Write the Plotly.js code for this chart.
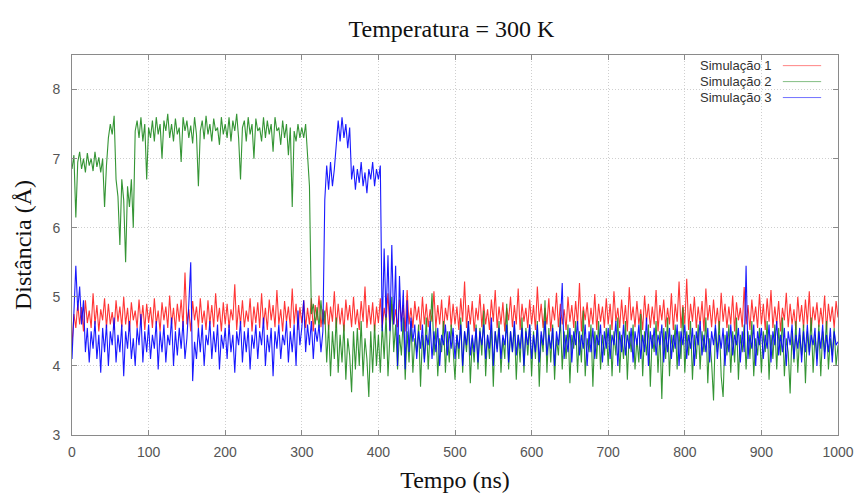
<!DOCTYPE html>
<html>
<head>
<meta charset="utf-8">
<script src="https://cdn.plot.ly/plotly-3.0.1.min.js"></script>
<style>html,body{margin:0;padding:0;background:#fff;}#chart{width:855px;height:496px;}</style>
</head>
<body>
<div id="chart"></div>
<script>
// Time axis: samples every 2.5 ns from 0 to 1000 ns
const timeStart = 0;
const timeStep = 2.5;
const seriesNames = ["Simulação 1", "Simulação 2", "Simulação 3"];
const xTicks = [0, 100, 200, 300, 400, 500, 600, 700, 800, 900, 1000];
const yTicks = [3, 4, 5, 6, 7, 8];

// Simulação 1 (red), distance in Å
const sim1 = [
  4.3, 4.75, 4.55, 4.9, 4.6, 4.85, 4.5, 4.95, 4.62, 4.8,
  4.55, 5.05, 4.6, 4.88, 4.5, 4.82, 4.66, 4.98, 4.55, 4.9,
  4.6, 4.78, 4.52, 4.95, 4.64, 4.86, 4.56, 5.0, 4.6, 4.84,
  4.5, 4.92, 4.66, 4.8, 4.55, 4.96, 4.6, 4.88, 4.52, 4.9,
  4.62, 4.85, 4.55, 4.98, 4.6, 4.8, 4.5, 4.92, 4.66, 4.86,
  4.55, 5.02, 4.6, 4.84, 4.52, 4.9, 4.64, 4.96, 4.56, 5.35,
  4.6, 4.82, 4.5, 4.94, 4.66, 4.86, 4.55, 4.98, 4.62, 4.8,
  4.52, 4.95, 4.6, 4.88, 4.56, 5.05, 4.64, 4.84, 4.5, 4.92,
  4.6, 4.9, 4.55, 4.82, 4.66, 5.18, 4.52, 4.88, 4.6, 4.95,
  4.56, 4.8, 4.64, 4.98, 4.5, 4.86, 4.62, 4.92, 4.55, 5.05,
  4.6, 4.84, 4.52, 4.96, 4.66, 4.88, 4.56, 5.1, 4.6, 4.82,
  4.5, 4.94, 4.64, 4.86, 4.55, 5.12, 4.6, 4.9, 4.52, 4.85,
  4.62, 4.95, 4.55, 4.84, 4.6, 4.98, 4.5, 4.88, 4.66, 5.02,
  4.56, 4.82, 4.6, 4.92, 4.52, 4.86, 4.64, 5.08, 4.55, 4.9,
  4.6, 4.84, 4.5, 4.96, 4.66, 4.88, 4.56, 5.0, 4.6, 4.82,
  4.52, 4.94, 4.64, 5.15, 4.55, 4.88, 4.6, 4.92, 4.5, 4.86,
  4.62, 4.98, 4.55, 4.84, 4.66, 5.05, 4.52, 4.9, 4.6, 4.82,
  4.56, 4.96, 4.64, 4.88, 4.5, 5.1, 4.6, 4.84, 4.55, 4.94,
  4.66, 4.86, 4.52, 5.0, 4.6, 4.9, 4.56, 4.82, 4.64, 5.08,
  4.55, 4.88, 4.6, 4.96, 4.5, 4.84, 4.66, 5.02, 4.56, 4.9,
  4.6, 4.86, 4.52, 4.98, 4.64, 5.22, 4.55, 4.88, 4.6, 4.94,
  4.5, 4.84, 4.66, 5.04, 4.56, 4.9, 4.6, 4.82, 4.52, 4.96,
  4.64, 5.1, 4.55, 4.86, 4.6, 4.92, 4.5, 4.84, 4.66, 5.0,
  4.56, 4.88, 4.6, 5.12, 4.52, 4.9, 4.64, 4.84, 4.55, 4.96,
  4.6, 4.88, 4.52, 5.15, 4.64, 4.9, 4.55, 4.84, 4.6, 4.98,
  4.5, 4.86, 4.66, 5.06, 4.56, 4.9, 4.6, 4.82, 4.52, 5.0,
  4.64, 4.88, 4.55, 4.94, 4.6, 5.2, 4.5, 4.86, 4.66, 4.92,
  4.56, 4.84, 4.6, 5.04, 4.52, 4.9, 4.64, 4.86, 4.55, 4.98,
  4.6, 4.9, 4.52, 5.08, 4.64, 4.84, 4.55, 4.96, 4.6, 4.88,
  4.5, 5.14, 4.66, 4.86, 4.56, 4.94, 4.6, 4.82, 4.52, 5.02,
  4.64, 4.9, 4.55, 4.86, 4.6, 5.1, 4.5, 4.88, 4.66, 4.96,
  4.56, 4.84, 4.6, 5.05, 4.52, 4.9, 4.64, 5.22, 4.55, 4.88,
  4.6, 5.26, 4.52, 4.9, 4.64, 5.0, 4.55, 4.86, 4.6, 4.94,
  4.5, 5.12, 4.66, 4.88, 4.56, 4.96, 4.6, 4.84, 4.52, 5.06,
  4.64, 4.9, 4.55, 4.86, 4.6, 5.02, 4.5, 4.92, 4.66, 4.84,
  4.56, 5.14, 4.6, 4.88, 4.52, 4.96, 4.64, 4.86, 4.55, 5.04,
  4.6, 4.9, 4.52, 4.98, 4.64, 5.1, 4.55, 4.86, 4.6, 4.94,
  4.5, 4.84, 4.66, 5.06, 4.56, 4.9, 4.6, 4.82, 4.52, 5.0,
  4.64, 4.88, 4.55, 4.96, 4.6, 5.08, 4.5, 4.86, 4.66, 4.92,
  4.56, 4.84, 4.6, 5.02, 4.52, 4.9, 4.64, 4.86, 4.55, 4.94,
  4.7
];

// Simulação 2 (green)
const sim2 = [
  6.85, 7.05, 6.15, 6.95, 7.1, 6.85, 7.0, 6.8, 7.08, 6.9,
  7.0, 6.82, 7.1, 6.88, 7.02, 6.8, 7.0, 6.3, 6.9, 7.3,
  7.5, 7.35, 7.62, 6.7, 6.45, 5.75, 6.7, 6.4, 5.5, 6.6,
  6.3, 6.7, 6.0, 7.4, 7.55, 7.3, 7.6, 7.25, 7.5, 6.7,
  7.45, 7.3, 7.55, 7.25, 7.6, 7.35, 7.5, 7.0, 7.55, 7.4,
  7.65, 7.3, 7.5, 7.25, 7.58, 7.35, 7.45, 6.95, 7.6, 7.4,
  7.55, 7.3, 7.48, 7.22, 7.6, 7.35, 6.6, 7.4, 7.55, 7.28,
  7.62, 7.35, 7.5, 7.25, 7.58, 7.4, 7.45, 7.2, 7.6, 7.35,
  7.5, 7.3, 7.6, 7.25, 7.55, 7.4, 7.65, 7.3, 6.7, 7.45,
  7.55, 7.25, 7.6, 7.35, 7.5, 7.0, 7.58, 7.4, 7.45, 7.25,
  7.6, 7.3, 7.55, 7.35, 7.5, 7.1, 7.6, 7.4, 7.45, 7.2,
  7.55, 7.3, 7.5, 7.05, 7.45, 6.3, 7.4, 7.25, 7.5, 7.3,
  7.45, 7.3, 7.5, 7.0, 6.6, 4.75, 4.9, 4.6, 4.85, 4.55,
  4.95, 4.6, 4.8, 4.05, 4.6, 3.85, 4.5, 4.1, 4.7, 3.9,
  4.45, 4.05, 4.6, 3.8, 4.4, 4.15, 3.62, 4.5, 3.95, 4.55,
  4.0, 4.65, 3.85, 4.4, 4.1, 3.55, 4.5, 3.9, 4.6, 4.0,
  4.45, 3.9, 4.6, 4.1, 4.75, 3.85, 4.5, 5.0, 4.2, 4.6,
  3.95, 4.45, 4.15, 4.7, 3.8, 4.5, 4.05, 4.65, 3.9, 4.4,
  4.2, 4.6, 3.7, 4.45, 4.1, 4.7, 3.95, 4.5, 5.05, 4.15,
  4.55, 3.85, 4.4, 4.2, 4.65, 3.9, 4.5, 4.05, 4.6, 4.25,
  3.8, 4.45, 4.1, 4.7, 3.9, 4.5, 4.2, 4.65, 3.75, 4.4,
  4.05, 4.6, 3.95, 4.55, 4.15, 4.8, 3.85, 4.45, 4.1, 4.6,
  3.7, 4.5, 4.25, 4.65, 3.9, 4.4, 4.1, 4.9, 3.95, 4.5,
  4.2, 4.6, 3.8, 4.45, 4.05, 4.7, 3.9, 4.55, 4.15, 4.6,
  3.85, 4.5, 4.1, 4.65, 3.7, 4.45, 4.2, 4.95, 3.9, 4.55,
  4.05, 4.6, 3.8, 4.4, 4.15, 4.7, 3.95, 4.5, 4.1, 4.6,
  3.75, 4.45, 4.25, 4.65, 3.9, 4.5, 4.05, 4.8, 3.85, 4.4,
  4.2, 4.6, 3.7, 4.5, 4.1, 4.65, 3.95, 4.45, 4.15, 4.55,
  4.0, 4.6, 3.85, 4.5, 4.15, 4.7, 3.9, 4.45, 4.1, 4.65,
  3.8, 4.5, 4.2, 4.6, 3.95, 4.4, 4.05, 4.75, 3.85, 4.5,
  4.15, 4.6, 3.7, 4.45, 4.2, 4.65, 3.9, 4.5, 3.52, 4.55,
  4.1, 4.7, 3.85, 4.45, 4.2, 4.6, 3.95, 4.5, 4.1, 4.85,
  3.9, 4.5, 4.15, 4.65, 3.8, 4.45, 4.1, 4.6, 3.95, 4.5,
  4.2, 4.7, 3.75, 4.4, 4.05, 3.5, 4.55, 4.2, 4.65, 3.85,
  3.55, 4.45, 4.15, 4.6, 3.9, 4.5, 4.05, 4.7, 3.8, 4.45,
  4.2, 4.6, 3.95, 4.5, 4.1, 4.65, 3.85, 4.4, 4.15, 4.55,
  3.9, 4.5, 4.2, 4.65, 3.8, 4.45, 4.1, 4.6, 3.95, 4.55,
  4.15, 4.7, 3.85, 4.4, 4.2, 3.6, 4.5, 4.05, 4.65, 3.9,
  4.45, 4.15, 4.6, 3.75, 4.5, 4.2, 4.7, 3.9, 4.45, 4.1,
  4.6, 3.85, 4.5, 4.2, 4.65, 3.95, 4.4, 4.15, 4.55, 4.0,
  4.3
];

// Simulação 3 (blue)
const sim3 = [
  4.1, 4.9, 5.45, 4.8, 5.15, 4.6, 4.95, 4.2, 4.55, 4.05,
  4.5, 4.25, 4.65, 4.1, 4.45, 3.9, 4.55, 4.2, 4.6, 4.0,
  4.5, 4.3, 4.7, 4.05, 4.45, 4.2, 4.6, 3.85, 4.5, 4.25,
  4.65, 4.1, 4.4, 4.0, 4.55, 4.3, 4.75, 4.05, 4.5, 4.2,
  4.6, 4.1, 4.45, 4.25, 4.65, 3.95, 4.5, 4.2, 4.6, 4.05,
  4.45, 4.3, 4.7, 4.0, 4.5, 4.15, 4.55, 4.25, 4.65, 4.1,
  4.4, 4.9, 5.5, 3.78, 4.35, 4.1, 4.55, 4.2, 4.6, 4.0,
  4.45, 4.3, 4.65, 4.1, 4.5, 4.2, 4.6, 3.95, 4.45, 4.25,
  4.55, 4.1, 4.6, 4.2, 4.45, 3.9, 4.5, 4.3, 4.65, 4.05,
  4.5, 4.2, 4.55, 3.95, 4.45, 4.25, 4.6, 4.1, 4.5, 4.3,
  4.7, 4.0, 4.45, 4.2, 4.55, 3.85, 4.5, 4.25, 4.6, 4.1,
  4.45, 4.3, 4.65, 4.05, 4.5, 4.2, 4.6, 4.0, 4.8, 4.3,
  4.55, 4.95, 4.2, 4.6, 4.3, 4.65, 4.1, 4.55, 4.35, 4.6,
  4.2, 4.5, 6.4, 6.9, 6.55, 6.95, 6.6, 6.85, 7.2, 7.55,
  7.25, 7.6, 7.3, 7.5, 7.15, 7.45, 6.7, 6.9, 6.55, 6.85,
  6.65, 6.95, 6.6, 6.8, 6.5, 6.85, 6.7, 6.95, 6.6, 6.85,
  6.7, 6.9, 4.5, 5.7, 4.7, 5.6, 4.5, 5.75, 4.6, 5.45,
  4.0, 5.3, 4.5, 5.1, 3.95, 4.95, 4.2, 4.7, 4.35, 4.6,
  4.1, 4.5, 4.25, 4.6, 4.05, 4.45, 4.3, 4.65, 4.1, 4.5,
  4.2, 4.55, 4.0, 4.45, 4.3, 4.6, 4.15, 4.5, 4.25, 4.55,
  4.1, 4.45, 4.25, 4.6, 4.0, 4.5, 4.3, 4.65, 4.15, 4.45,
  4.2, 4.55, 4.05, 4.5, 4.3, 4.6, 4.1, 4.45, 4.25, 4.7,
  4.0, 4.5, 4.2, 4.55, 4.1, 4.45, 4.3, 4.6, 4.05, 4.5,
  4.2, 4.65, 4.15, 4.45, 4.25, 4.55, 4.0, 4.5, 4.3, 4.6,
  4.1, 4.45, 4.2, 4.6, 4.05, 4.5, 4.3, 4.65, 4.15, 4.45,
  4.25, 4.55, 4.0, 4.5, 4.3, 4.6, 5.2, 4.1, 4.45, 4.2,
  4.55, 4.05, 4.5, 4.3, 4.65, 4.15, 4.45, 4.25, 4.6, 4.0,
  4.5, 4.2, 4.55, 4.1, 4.45, 4.3, 4.6, 4.05, 4.5, 4.25,
  4.55, 4.1, 4.45, 4.3, 4.65, 4.0, 4.5, 4.2, 4.6, 4.15,
  4.45, 4.25, 4.55, 4.05, 4.5, 4.3, 4.6, 4.1, 4.45, 4.2,
  4.7, 4.0, 4.5, 4.25, 4.55, 4.15, 4.45, 4.3, 4.6, 4.05,
  4.5, 4.2, 4.55, 4.1, 4.45, 4.25, 4.6, 4.0, 4.5, 4.3,
  4.6, 4.1, 4.45, 4.25, 4.55, 4.0, 4.5, 4.3, 4.65, 4.15,
  4.45, 4.2, 4.55, 4.05, 4.5, 4.3, 4.6, 4.1, 4.45, 4.25,
  4.55, 4.0, 4.5, 4.2, 4.6, 4.15, 4.45, 4.3, 4.55, 4.05,
  4.5, 4.2, 5.45, 4.1, 4.45, 4.25, 4.6, 4.0, 4.5, 4.3,
  4.55, 4.1, 4.45, 4.25, 4.6, 4.05, 4.5, 4.3, 4.65, 4.15,
  4.45, 4.2, 4.55, 4.0, 4.5, 4.3, 4.6, 4.1, 4.45, 4.25,
  4.55, 4.05, 4.5, 4.2, 4.6, 4.15, 4.45, 4.3, 4.55, 4.0,
  4.5, 4.25, 4.6, 4.1, 4.45, 4.2, 4.55, 4.05, 4.5, 4.3,
  4.35
];

const seriesData = [sim1, sim2, sim3];
const seriesColors = ["#ff2020", "#1f8a1f", "#0000ff"];

const traces = seriesData.map((ys, i) => ({
  type: "scatter",
  mode: "lines",
  name: seriesNames[i],
  x0: timeStart,
  dx: timeStep,
  y: ys,
  line: {color: seriesColors[i], width: 1.1},
  opacity: 0.9,
  showlegend: false,
  hoverinfo: "x+y+name"
}));

// Legend drawn as text with the line sample on the right (gnuplot style)
const legendY = [0.972, 0.930, 0.888];
const annotations = seriesNames.map((n, i) => ({
  xref: "paper", yref: "paper", x: 0.915, y: legendY[i],
  xanchor: "right", yanchor: "middle", showarrow: false, borderpad: 0,
  text: n, font: {family: "Liberation Sans, Arial, sans-serif", size: 13, color: "#333"}
}));
const shapes = [{
  type: "rect", xref: "paper", yref: "paper", x0: 0.796, x1: 0.996, y0: 0.866, y1: 0.996,
  fillcolor: "#ffffff", line: {width: 0}, layer: "between"
}].concat(seriesNames.map((n, i) => ({
  type: "line", xref: "paper", yref: "paper", x0: 0.928, x1: 0.978, y0: legendY[i], y1: legendY[i],
  line: {color: seriesColors[i], width: 1}, opacity: 0.55, layer: "above"
})));

const axisCommon = {
  showline: true, mirror: "ticks", linecolor: "#8a8a8a", linewidth: 1,
  ticks: "inside", ticklen: 5, tickcolor: "#8a8a8a",
  showgrid: true, gridcolor: "#cfcfcf", griddash: "1px,2px", gridwidth: 1,
  zeroline: false,
  tickfont: {family: "Liberation Sans, Arial, sans-serif", size: 14, color: "#555"}
};

const serifFont = {family: "Liberation Serif, Times New Roman, serif", size: 24, color: "#111"};

const layout = {
  width: 855, height: 496,
  margin: {l: 72, r: 17, t: 55, b: 61},
  paper_bgcolor: "#fff", plot_bgcolor: "#fff",
  title: {
    text: "Temperatura = 300 K", font: serifFont,
    x: 0.528, xanchor: "center", y: 0.942, yanchor: "middle", yref: "container"
  },
  xaxis: Object.assign({}, axisCommon, {
    range: [0, 1000], tickvals: xTicks, ticktext: xTicks.map(String),
    ticklabelstandoff: 4,
    title: {text: "Tempo (ns)", standoff: 12, font: serifFont}
  }),
  yaxis: Object.assign({}, axisCommon, {
    range: [3, 8.5], tickvals: yTicks, ticktext: yTicks.map(String),
    ticklabelstandoff: 8,
    title: {text: "Distância (Å)", standoff: 14, font: serifFont}
  }),
  annotations: annotations,
  shapes: shapes
};

Plotly.newPlot("chart", traces, layout, {displayModeBar: false, staticPlot: true});
</script>
</body>
</html>
